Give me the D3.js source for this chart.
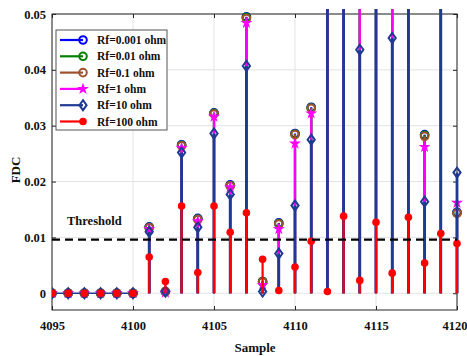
<!DOCTYPE html>
<html>
<head>
<meta charset="utf-8">
<script src="https://cdn.jsdelivr.net/npm/d3@7"></script>
<style>
  body { margin: 0; background: #fff; }
  svg text { font-family: "Liberation Serif", "Times New Roman", serif; font-weight: bold; }
</style>
</head>
<body>
<div id="chart"></div>
<script>
const samples = [4095, 4096, 4097, 4098, 4099, 4100, 4101, 4102, 4103, 4104, 4105, 4106, 4107,
                 4108, 4109, 4110, 4111, 4112, 4113, 4114, 4115, 4116, 4117, 4118, 4119, 4120];
const rf0001 = [0, 0, 0, 0, 0, 0, 0.0119, 0.0003, 0.0266, 0.0134, 0.0323, 0.0194, 0.0495,
                0.0021, 0.0126, 0.0286, 0.0333, 0.075, 0.078, 0.082, 0.071, 0.069, 0.074, 0.0284, 0.066, 0.0145];
const rf001 = [0, 0, 0, 0, 0, 0, 0.0118, 0.0003, 0.0265, 0.0133, 0.0322, 0.0193, 0.0494,
               0.0021, 0.0125, 0.0285, 0.0332, 0.074, 0.077, 0.081, 0.070, 0.068, 0.073, 0.0283, 0.065, 0.0144];
const rf01 = [0, 0, 0, 0, 0, 0, 0.0117, 0.0003, 0.0264, 0.0132, 0.0321, 0.0192, 0.0492,
              0.0020, 0.0124, 0.0284, 0.0331, 0.073, 0.076, 0.080, 0.069, 0.067, 0.072, 0.0281, 0.064, 0.0143];
const rf1 = [0, 0, 0, 0, 0, 0, 0.0115, 0.0001, 0.0260, 0.0129, 0.0316, 0.0190, 0.0484,
             0.0015, 0.0115, 0.0268, 0.0322, 0.072, 0.074, 0.068, 0.067, 0.062, 0.070, 0.0262, 0.063, 0.0162];
const rf10 = [0, 0, 0, 0, 0, 0, 0.0110, 0.0003, 0.0252, 0.0118, 0.0286, 0.0177, 0.0407,
              0.0003, 0.0071, 0.0157, 0.0275, 0.068, 0.071, 0.0436, 0.065, 0.0457, 0.066, 0.0164, 0.060, 0.0216];
const rf100 = [0, 0, 0, 0, 0, 0, 0.0065, 0.0021, 0.0156, 0.0037, 0.0156, 0.0109, 0.0144,
               0.0061, 0.0005, 0.0047, 0.0093, 0.0003, 0.0138, 0.0023, 0.0127, 0.0036, 0.0136, 0.0054, 0.0107, 0.0089];
const labels = ["Rf=0.001 ohm", "Rf=0.01 ohm", "Rf=0.1 ohm", "Rf=1 ohm", "Rf=10 ohm", "Rf=100 ohm"];
const xTicks = [4095, 4100, 4105, 4110, 4115, 4120];
const yTicks = [0, 0.01, 0.02, 0.03, 0.04, 0.05];
const threshold = 0.0096;

const series = [
  { name: labels[0], values: rf0001, color: "#0000ff", marker: "circle", lw: 2.2 },
  { name: labels[1], values: rf001, color: "#008000", marker: "circle", lw: 2.2 },
  { name: labels[2], values: rf01, color: "#a0522d", marker: "circle", lw: 2.2 },
  { name: labels[3], values: rf1, color: "#ff00ff", marker: "star", lw: 2.2 },
  { name: labels[4], values: rf10, color: "#1f3a93", marker: "diamond", lw: 2.8 },
  { name: labels[5], values: rf100, color: "#ff0000", marker: "dot", lw: 2.2 }
];

const width = 467, height = 356;
const mLeft = 52, mRight = 457, mTop = 14, mBottom = 310;

const svg = d3.select("#chart").append("svg")
  .attr("width", width)
  .attr("height", height);

const x = d3.scaleLinear().domain([4095, 4120]).range([mLeft, mRight]);
const y = d3.scaleLinear().domain([-0.003, 0.05]).range([mBottom, mTop]);

svg.append("defs").append("clipPath").attr("id", "plot")
  .append("rect").attr("x", mLeft).attr("y", mTop - 5)
  .attr("width", mRight - mLeft + 6).attr("height", mBottom - mTop + 5);

// grid
svg.append("g").selectAll("line").data(xTicks).enter().append("line")
  .attr("x1", d => x(d)).attr("x2", d => x(d))
  .attr("y1", mTop).attr("y2", mBottom)
  .attr("stroke", "#e3e3e3");
svg.append("g").selectAll("line").data(yTicks).enter().append("line")
  .attr("x1", mLeft).attr("x2", mRight)
  .attr("y1", d => y(d)).attr("y2", d => y(d))
  .attr("stroke", "#e3e3e3");

// axes
const axisColor = "#262626";
svg.append("g").attr("transform", `translate(0,${mBottom})`)
  .call(d3.axisBottom(x).tickValues(xTicks).tickSize(-4).tickPadding(11).tickFormat(d3.format("d")))
  .call(g => g.select(".domain").remove())
  .call(g => g.selectAll(".tick:last-of-type text").attr("text-anchor", "end").attr("x", 10));
svg.append("g").attr("transform", `translate(0,${mTop})`)
  .call(d3.axisTop(x).tickValues(xTicks).tickSize(-4).tickFormat(""))
  .call(g => g.select(".domain").remove());
svg.append("g").attr("transform", `translate(${mLeft},0)`)
  .call(d3.axisLeft(y).tickValues(yTicks).tickSize(-4).tickPadding(6).tickFormat(d => d === 0 ? "0" : d3.format(".2f")(d)))
  .call(g => g.select(".domain").remove());
svg.append("g").attr("transform", `translate(${mRight},0)`)
  .call(d3.axisRight(y).tickValues(yTicks).tickSize(-4).tickFormat(""))
  .call(g => g.select(".domain").remove());
svg.selectAll(".tick line").attr("stroke", axisColor);
svg.selectAll(".tick text").attr("fill", "#111").style("font-size", "12.5px")
  .style("font-family", "'Liberation Serif', serif").style("font-weight", "bold");

svg.append("rect")
  .attr("x", mLeft).attr("y", mTop).attr("width", mRight - mLeft).attr("height", mBottom - mTop)
  .attr("fill", "none").attr("stroke", axisColor).attr("stroke-width", 1);

const plot = svg.append("g").attr("clip-path", "url(#plot)");

// baseline segment at zero
plot.append("line")
  .attr("x1", x(samples[0])).attr("x2", x(samples[5]))
  .attr("y1", y(0)).attr("y2", y(0))
  .attr("stroke", "#1f3a93").attr("stroke-width", 1.5);

function drawMarker(g, type, color, cx, cy) {
  if (type === "circle") {
    g.append("circle").attr("cx", cx).attr("cy", cy).attr("r", 3.8)
      .attr("fill", "none").attr("stroke", color).attr("stroke-width", 2);
  } else if (type === "diamond") {
    g.append("path").attr("transform", `translate(${cx},${cy})`)
      .attr("d", "M0,-5L3.6,0L0,5L-3.6,0Z")
      .attr("fill", "none").attr("stroke", color).attr("stroke-width", 2);
  } else if (type === "star") {
    g.append("path").attr("transform", `translate(${cx},${cy})`)
      .attr("d", d3.symbol(d3.symbolStar, 13)())
      .attr("fill", "none").attr("stroke", color).attr("stroke-width", 1.8);
  } else {
    g.append("circle").attr("cx", cx).attr("cy", cy).attr("r", 3.8)
      .attr("fill", color);
  }
}

series.forEach(s => {
  const g = plot.append("g");
  g.selectAll("line").data(s.values).enter().append("line")
    .attr("x1", (d, i) => x(samples[i])).attr("x2", (d, i) => x(samples[i]))
    .attr("y1", y(0)).attr("y2", d => y(d))
    .attr("stroke", s.color).attr("stroke-width", s.lw);
  s.values.forEach((v, i) => {
    if (v <= 0.05) drawMarker(g, s.marker, s.color, x(samples[i]), y(v));
  });
});

// threshold
svg.append("line")
  .attr("x1", mLeft).attr("x2", mRight)
  .attr("y1", y(threshold)).attr("y2", y(threshold))
  .attr("stroke", "#000").attr("stroke-width", 2.2)
  .attr("stroke-dasharray", "8,5");
svg.append("text").attr("x", 67).attr("y", 225)
  .style("font-size", "12.5px").attr("fill", "#111").text("Threshold");

// legend
const lg = svg.append("g");
lg.append("rect").attr("x", 56).attr("y", 30).attr("width", 111).attr("height", 100)
  .attr("fill", "#fff").attr("stroke", "#555").attr("stroke-width", 1);
series.forEach((s, i) => {
  const ly = 40 + i * 16.3;
  lg.append("line").attr("x1", 60).attr("x2", 83).attr("y1", ly).attr("y2", ly)
    .attr("stroke", s.color).attr("stroke-width", 2.2);
  drawMarker(lg, s.marker, s.color, 83, ly);
  lg.append("text").attr("x", 97).attr("y", ly + 4)
    .style("font-size", "11.5px").attr("fill", "#111").text(s.name);
});

// axis labels
svg.append("text").attr("x", 255).attr("y", 352).attr("text-anchor", "middle")
  .style("font-size", "13px").attr("fill", "#111").text("Sample");
svg.append("text").attr("transform", "translate(20,170) rotate(-90)")
  .attr("text-anchor", "middle")
  .style("font-size", "13px").attr("fill", "#111").text("FDC");
</script>
</body>
</html>
